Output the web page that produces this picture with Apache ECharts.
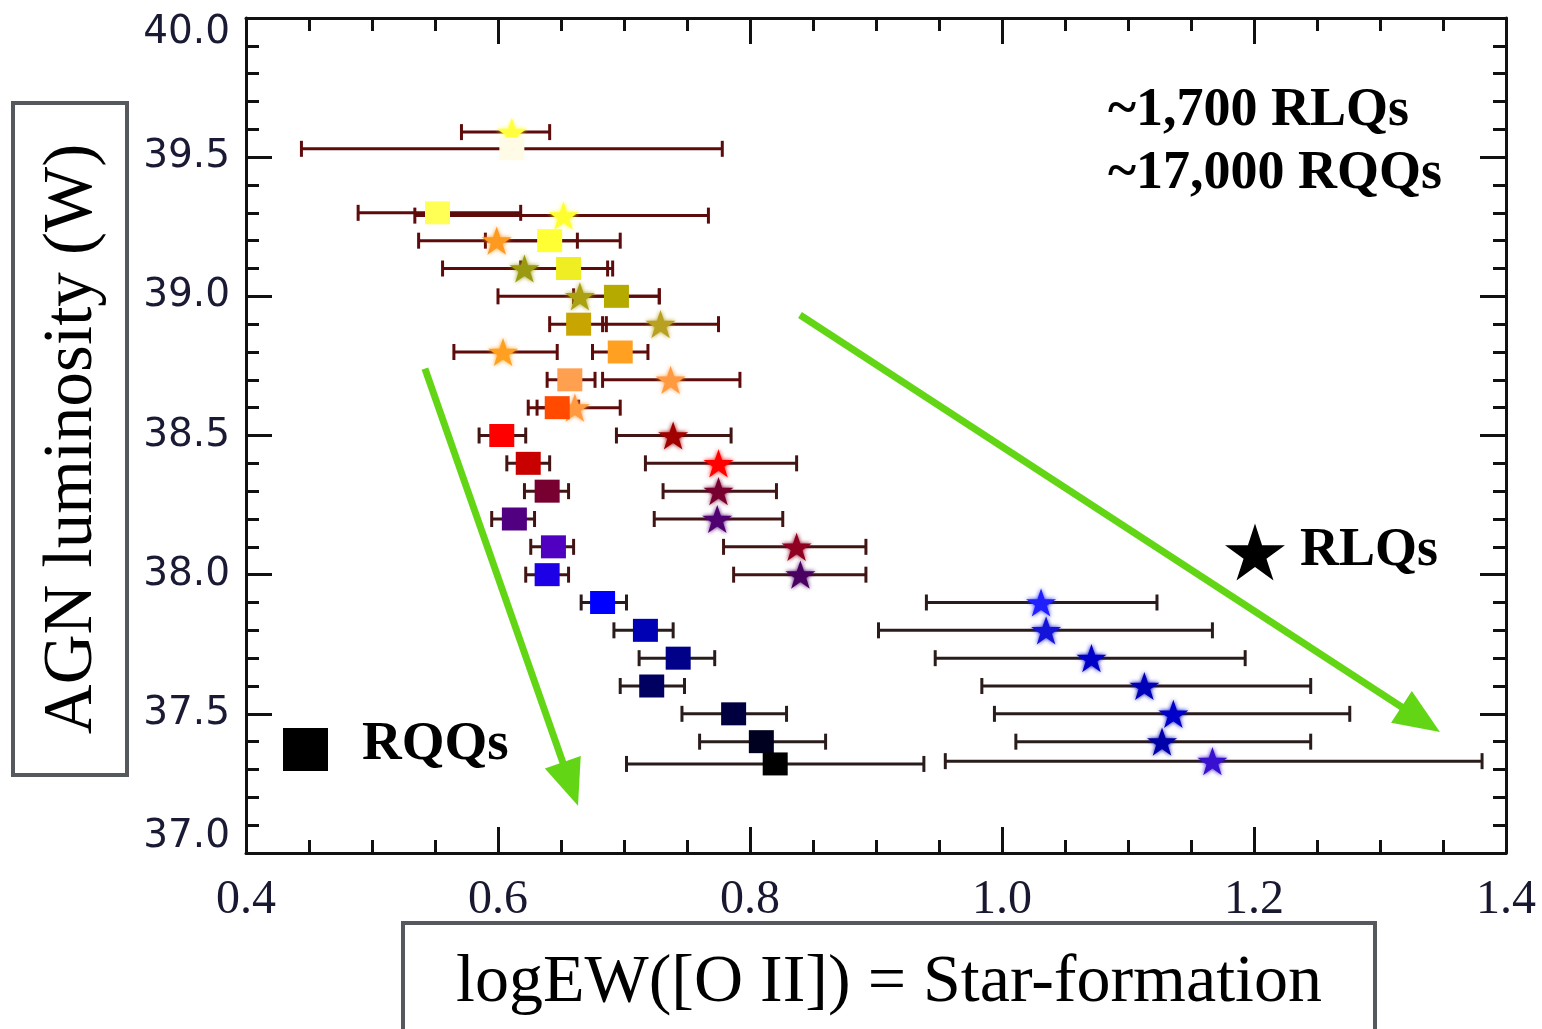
<!DOCTYPE html>
<html>
<head>
<meta charset="utf-8">
<title>AGN luminosity vs logEW([O II])</title>
<script src="https://cdn.jsdelivr.net/npm/echarts@6/dist/echarts.min.js"></script>
<style>
  html, body { margin: 0; padding: 0; background: #ffffff; }
  #chart { width: 1542px; height: 1029px; }
</style>
</head>
<body>
<div id="chart"></div>
<script>
// ---- Radio-quiet quasars (squares): logEW([O II]) with error range, AGN luminosity ----
const rqqLum = [39.53, 39.30, 39.20, 39.10, 39.00, 38.90, 38.80, 38.70, 38.60, 38.50, 38.40,
                38.30, 38.20, 38.10, 38.00, 37.90, 37.80, 37.70, 37.60, 37.50, 37.40, 37.32];
const rqqEW  = [0.611, 0.552, 0.641, 0.656, 0.694, 0.664, 0.697, 0.657, 0.647, 0.603, 0.624,
                0.639, 0.613, 0.644, 0.639, 0.683, 0.717, 0.743, 0.722, 0.787, 0.809, 0.820];
const rqqLo  = [0.444, 0.489, 0.590, 0.618, 0.660, 0.641, 0.675, 0.639, 0.631, 0.585, 0.607,
                0.621, 0.595, 0.626, 0.622, 0.666, 0.692, 0.712, 0.697, 0.746, 0.760, 0.702];
const rqqHi  = [0.778, 0.618, 0.697, 0.691, 0.728, 0.686, 0.719, 0.677, 0.664, 0.622, 0.641,
                0.656, 0.629, 0.660, 0.656, 0.702, 0.739, 0.772, 0.748, 0.829, 0.860, 0.938];

// ---- Radio-loud quasars (stars) ----
const rlqLum = [39.59, 39.29, 39.20, 39.10, 39.00, 38.90, 38.80, 38.70, 38.60, 38.50, 38.40,
                38.30, 38.20, 38.10, 38.00, 37.90, 37.80, 37.70, 37.60, 37.50, 37.40, 37.33];
const rlqEW  = [0.611, 0.652, 0.599, 0.621, 0.665, 0.729, 0.604, 0.737, 0.661, 0.739, 0.775,
                0.775, 0.774, 0.837, 0.840, 1.031, 1.035, 1.071, 1.113, 1.136, 1.127, 1.167];
const rlqLo  = [0.571, 0.534, 0.537, 0.556, 0.600, 0.683, 0.565, 0.683, 0.624, 0.694, 0.717,
                0.731, 0.724, 0.779, 0.787, 0.940, 0.902, 0.947, 0.984, 0.994, 1.011, 0.955];
const rlqHi  = [0.641, 0.767, 0.663, 0.687, 0.728, 0.775, 0.647, 0.792, 0.697, 0.785, 0.837,
                0.821, 0.826, 0.892, 0.892, 1.123, 1.167, 1.193, 1.245, 1.276, 1.245, 1.381];

// ---- Axis tick labels ----
const xTickLabels = ['0.4', '0.6', '0.8', '1.0', '1.2', '1.4'];
const yTickLabels = ['37.0', '37.5', '38.0', '38.5', '39.0', '39.5', '40.0'];

// ---- Trend arrows, [fromEW, fromLum, toEW, toLum] ----
const arrowRQQ = [0.542, 38.74, 0.6635, 37.17];
const arrowRLQ = [0.8397, 38.933, 1.3476, 37.435];

// marker colours, one per luminosity bin
const rqqColors = ['#fffbe6', '#ffff55', '#ffff33', '#eeee22', '#b5ab00', '#c8a500', '#ffa020',
                   '#ffa050', '#ff4a00', '#ff0000', '#c80000', '#780030', '#500080', '#5000c0',
                   '#1e00e6', '#0000ff', '#0000b4', '#000088', '#000060', '#000040', '#000020', '#000000'];
const rlqColors = ['#ffff40', '#ffff30', '#ff9a20', '#9a9a10', '#aaa010', '#b8a020', '#ffa020',
                   '#ff9a40', '#ff9a40', '#a00000', '#ff0000', '#780030', '#500070', '#900020',
                   '#4a0060', '#2020ff', '#1414d8', '#0000c8', '#0000b8', '#0000c8', '#0000a8', '#3810d0'];

const GREEN = '#62d614';
const AXIS = '#111111';
const STAR_PATH = 'path://M50,0 L61.8,35.1 L98.8,35.1 L68.9,56.7 L80.3,91.9 L50,70.2 L19.7,91.9 L31.1,56.7 L1.2,35.1 L38.2,35.1 Z';

function barColor(lum) {
  if (lum >= 38.55) return '#5e0b0b';
  if (lum >= 37.95) return '#421515';
  return '#2b1c1c';
}

function errorBarSeries(lums, los, his) {
  return {
    type: 'custom',
    silent: true,
    z: 2,
    clip: false,
    encode: { x: [1, 2], y: 0 },
    data: lums.map((l, i) => [l, los[i], his[i]]),
    renderItem: function (params, api) {
      const lum = api.value(0);
      const a = api.coord([api.value(1), lum]);
      const b = api.coord([api.value(2), lum]);
      const style = { stroke: barColor(lum), lineWidth: 3, fill: null };
      const cap = 8;
      return {
        type: 'group',
        children: [
          { type: 'line', shape: { x1: a[0], y1: a[1], x2: b[0], y2: b[1] }, style: style },
          { type: 'line', shape: { x1: a[0], y1: a[1] - cap, x2: a[0], y2: a[1] + cap }, style: style },
          { type: 'line', shape: { x1: b[0], y1: b[1] - cap, x2: b[0], y2: b[1] + cap }, style: style }
        ]
      };
    }
  };
}

function arrowSeries(arrows) {
  return {
    type: 'custom',
    silent: true,
    z: 6,
    clip: false,
    encode: { x: [0, 2], y: [1, 3] },
    data: arrows,
    renderItem: function (params, api) {
      const s = api.coord([api.value(0), api.value(1)]);
      const t = api.coord([api.value(2), api.value(3)]);
      const dx = t[0] - s[0], dy = t[1] - s[1];
      const len = Math.hypot(dx, dy);
      const ux = dx / len, uy = dy / len;
      const head = 46, half = 19;
      const bx = t[0] - ux * head, by = t[1] - uy * head;
      return {
        type: 'group',
        children: [
          { type: 'line', shape: { x1: s[0], y1: s[1], x2: bx + ux * 3, y2: by + uy * 3 },
            style: { stroke: GREEN, lineWidth: 7 } },
          { type: 'polygon',
            shape: { points: [[t[0], t[1]], [bx - uy * half, by + ux * half], [bx + uy * half, by - ux * half]] },
            style: { fill: GREEN } }
        ]
      };
    }
  };
}

function starPoints(cx, cy, R) {
  const r = R * 0.382;
  const pts = [];
  for (let k = 0; k < 10; k++) {
    const ang = -Math.PI / 2 + k * Math.PI / 5;
    const rad = k % 2 === 0 ? R : r;
    pts.push([cx + rad * Math.cos(ang), cy + rad * Math.sin(ang)]);
  }
  return pts;
}

const yTickFont = { fontFamily: '"DejaVu Sans"', fontSize: 39, color: '#1a1a34' };

const frameTick = {
  inside: true, length: 26,
  lineStyle: { color: AXIS, width: 3 }
};

const xAxisBase = {
  type: 'value', min: 0.4, max: 1.4, interval: 0.2,
  axisLine: { show: true, onZero: false, lineStyle: { color: AXIS, width: 3 } },
  axisTick: frameTick,
  minorTick: { show: true, splitNumber: 4, length: 13, lineStyle: { color: AXIS, width: 3 } },
  splitLine: { show: false }
};
const yAxisBase = {
  type: 'value', min: 37, max: 40, interval: 0.5,
  axisLine: { show: true, onZero: false, lineStyle: { color: AXIS, width: 3 } },
  axisTick: frameTick,
  minorTick: { show: true, splitNumber: 5, length: 13, lineStyle: { color: AXIS, width: 3 } },
  splitLine: { show: false }
};

const chart = echarts.init(document.getElementById('chart'), null, { renderer: 'canvas' });

chart.setOption({
  animation: false,
  backgroundColor: '#ffffff',
  grid: { left: 246, right: 36, top: 18, bottom: 176, containLabel: false },
  xAxis: [
    Object.assign({}, xAxisBase, {
      position: 'bottom',
      axisLabel: {
        margin: 23,
        fontFamily: '"Liberation Serif"', fontSize: 48, color: '#181830',
        formatter: v => xTickLabels[Math.round((v - 0.4) / 0.2)]
      }
    }),
    Object.assign({}, xAxisBase, { position: 'top', axisLabel: { show: false } })
  ],
  yAxis: [
    Object.assign({}, yAxisBase, {
      position: 'left',
      axisLabel: {
        margin: 16,
        fontFamily: yTickFont.fontFamily, fontSize: yTickFont.fontSize, color: yTickFont.color,
        formatter: function (v) {
          const s = yTickLabels[Math.round((v - 37) / 0.5)];
          if (Math.abs(v - 40) < 1e-6) return '{top|' + s + '}';
          if (Math.abs(v - 37) < 1e-6) return '{bot|' + s + '}';
          return s;
        },
        rich: {
          top: Object.assign({ padding: [30, 0, 0, 0] }, yTickFont),
          bot: Object.assign({ padding: [0, 0, 32, 0] }, yTickFont)
        }
      }
    }),
    Object.assign({}, yAxisBase, { position: 'right', axisLabel: { show: false } })
  ],
  series: [
    errorBarSeries(rlqLum, rlqLo, rlqHi),
    errorBarSeries(rqqLum, rqqLo, rqqHi),
    {
      name: 'RLQs', type: 'scatter', z: 3, silent: true,
      symbol: STAR_PATH, symbolKeepAspect: true, symbolSize: 30,
      data: rlqEW.map((x, i) => ({
        value: [x, rlqLum[i]],
        itemStyle: { color: rlqColors[i], opacity: 1, shadowBlur: 4, shadowColor: rlqColors[i] }
      }))
    },
    {
      name: 'RQQs', type: 'scatter', z: 4, silent: true,
      symbol: 'rect', symbolSize: [25, 23],
      data: rqqEW.map((x, i) => ({
        value: [x, rqqLum[i]],
        itemStyle: { color: rqqColors[i], opacity: 1 }
      }))
    },
    arrowSeries([arrowRQQ, arrowRLQ])
  ],
  graphic: [
    // y-axis title in its frame
    { type: 'rect', z: 10, shape: { x: 13, y: 103, width: 114, height: 672 },
      style: { fill: 'transparent', stroke: '#55595e', lineWidth: 4 } },
    { type: 'text', z: 10, x: 73, y: 439, rotation: Math.PI / 2,
      style: { text: 'AGN luminosity (W)', font: '69px "Liberation Serif"', fill: '#000',
               align: 'center', verticalAlign: 'middle' } },
    // x-axis title in its frame
    { type: 'rect', z: 10, shape: { x: 403, y: 923, width: 972, height: 130 },
      style: { fill: 'transparent', stroke: '#55595e', lineWidth: 4 } },
    { type: 'text', z: 10, x: 889, y: 983,
      style: { text: 'logEW([O II]) = Star-formation', font: '68px "Liberation Serif"', fill: '#000',
               align: 'center', verticalAlign: 'middle' } },
    // sample sizes
    { type: 'text', z: 10, x: 1108, y: 111,
      style: { text: '~1,700 RLQs', font: 'bold 54px "Liberation Serif"', fill: '#000',
               align: 'left', verticalAlign: 'middle' } },
    { type: 'text', z: 10, x: 1108, y: 174,
      style: { text: '~17,000 RQQs', font: 'bold 54px "Liberation Serif"', fill: '#000',
               align: 'left', verticalAlign: 'middle' } },
    // key: star = RLQs
    { type: 'polygon', z: 10, shape: { points: starPoints(1255, 555, 31.5) }, style: { fill: '#000' } },
    { type: 'text', z: 10, x: 1300, y: 551,
      style: { text: 'RLQs', font: 'bold 54px "Liberation Serif"', fill: '#000',
               align: 'left', verticalAlign: 'middle' } },
    // key: square = RQQs
    { type: 'rect', z: 10, shape: { x: 283, y: 728, width: 45, height: 43 }, style: { fill: '#000' } },
    { type: 'text', z: 10, x: 362, y: 745,
      style: { text: 'RQQs', font: 'bold 55px "Liberation Serif"', fill: '#000',
               align: 'left', verticalAlign: 'middle' } }
  ]
});
</script>
</body>
</html>
